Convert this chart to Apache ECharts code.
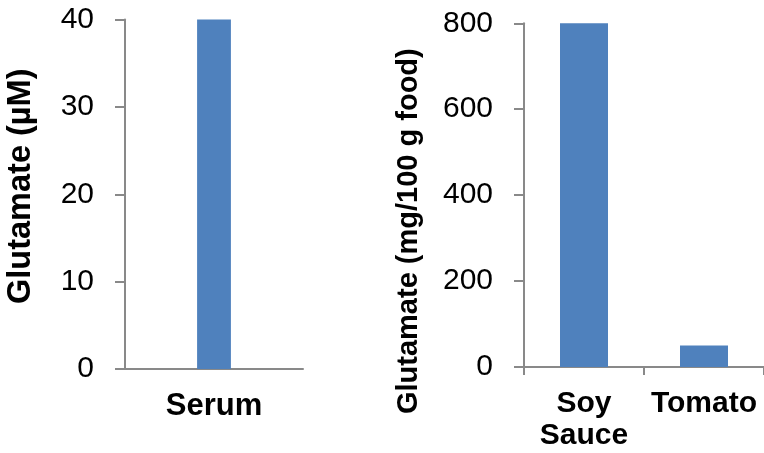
<!DOCTYPE html>
<html>
<head>
<meta charset="utf-8">
<script src="https://cdn.jsdelivr.net/npm/echarts@6/dist/echarts.min.js"></script>
<style>html,body{margin:0;padding:0;background:#fff;}#c{width:764px;height:453px;}</style>
</head>
<body>
<div id="c"></div>
<script>
const leftCategories = ['Serum'];
const leftValues = [40];
const rightCategories = ['Soy\nSauce', 'Tomato'];
const rightValues = [800, 50];
const leftTitle = 'Glutamate (µM)';
const rightTitle = 'Glutamate (mg/100 g food)';

const FONT = '"Liberation Sans", Arial, sans-serif';
const AX = '#898989';
const BAR = '#4f81bd';

const chart = echarts.init(document.getElementById('c'));
const yAxisBase = {
  type: 'value', min: 0, splitLine: {show: false},
  axisLine: {show: true, lineStyle: {color: AX, width: 2}},
  axisTick: {show: true, length: 10, lineStyle: {color: AX, width: 2}},
  axisLabel: {color: '#000', fontSize: 30, fontFamily: FONT, margin: 31},
  nameLocation: 'middle', nameRotate: 90,
};
chart.setOption({
  animation: false,
  grid: [
    {left: 125, top: 19.5, width: 178, height: 349.5, containLabel: false},
    {left: 524, top: 23.3, width: 242, height: 343.7, containLabel: false}
  ],
  xAxis: [
    {type: 'category', gridIndex: 0, data: leftCategories,
     axisLine: {lineStyle: {color: AX, width: 2}}, axisTick: {show: false},
     axisLabel: {color: '#000', fontSize: 31, fontWeight: 'bold', fontFamily: FONT, margin: 22, interval: 0}},
    {type: 'category', gridIndex: 1, data: rightCategories,
     axisLine: {lineStyle: {color: AX, width: 2}},
     axisTick: {show: true, length: 8, lineStyle: {color: AX, width: 2}},
     axisLabel: {color: '#000', fontSize: 30, fontWeight: 'bold', fontFamily: FONT, margin: 21, lineHeight: 32, interval: 0, hideOverlap: false}}
  ],
  yAxis: [
    Object.assign({}, yAxisBase, {gridIndex: 0, max: 40, interval: 10, name: leftTitle, nameGap: 87,
      nameTextStyle: {color: '#000', fontSize: 32.5, fontWeight: 'bold', fontFamily: FONT, padding: [0, 0, 0, 16]}}),
    Object.assign({}, yAxisBase, {gridIndex: 1, max: 800, interval: 200, name: rightTitle, nameGap: 101,
      nameTextStyle: {color: '#000', fontSize: 29, fontWeight: 'bold', fontFamily: FONT, padding: [0, 72, 0, 0]}})
  ],
  series: [
    {type: 'bar', xAxisIndex: 0, yAxisIndex: 0, data: leftValues, barWidth: '19%', itemStyle: {color: BAR}},
    {type: 'bar', xAxisIndex: 1, yAxisIndex: 1, data: rightValues, barWidth: '40%', itemStyle: {color: BAR}}
  ]
});
</script>
</body>
</html>
